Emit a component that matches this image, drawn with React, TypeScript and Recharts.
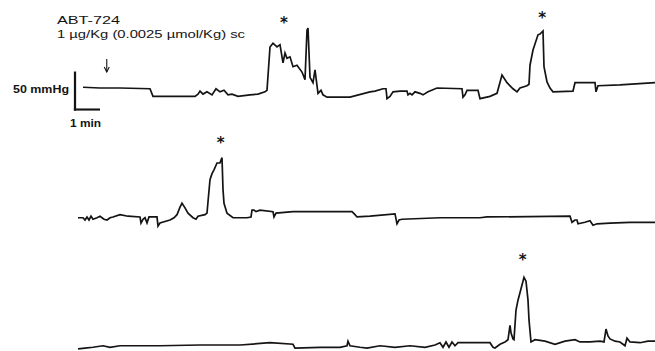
import React from "react";
import { LineChart, Line, XAxis, YAxis, ReferenceDot, ReferenceArea } from "recharts";

// time in min, pressure in mmHg (50 mmHg / 1 min scale bar)
const trace1 = [
  { t: 0, p: 101 }, { t: 0.68, p: 100 }, { t: 1.48, p: 100 }, { t: 2.68, p: 99 },
  { t: 2.8, p: 89 }, { t: 3.08, p: 89 }, { t: 4.48, p: 89 }, { t: 4.6, p: 92 },
  { t: 4.68, p: 96 }, { t: 4.8, p: 92 }, { t: 4.96, p: 95 }, { t: 5.16, p: 91 },
  { t: 5.32, p: 99 }, { t: 5.48, p: 95 }, { t: 5.64, p: 97 }, { t: 5.8, p: 91 },
  { t: 5.96, p: 92 }, { t: 6.2, p: 89 }, { t: 6.68, p: 91 }, { t: 7.0, p: 92 },
  { t: 7.28, p: 95 }, { t: 7.36, p: 97 }, { t: 7.48, p: 154 }, { t: 7.6, p: 159 },
  { t: 7.76, p: 154 }, { t: 7.88, p: 157 }, { t: 8.0, p: 133 }, { t: 8.08, p: 146 },
  { t: 8.16, p: 139 }, { t: 8.28, p: 141 }, { t: 8.4, p: 128 }, { t: 8.56, p: 130 },
  { t: 8.76, p: 121 }, { t: 8.88, p: 111 }, { t: 8.96, p: 176 }, { t: 9.0, p: 179 },
  { t: 9.08, p: 114 }, { t: 9.2, p: 107 }, { t: 9.28, p: 124 }, { t: 9.4, p: 93 },
  { t: 9.52, p: 97 }, { t: 9.6, p: 91 }, { t: 9.76, p: 88 }, { t: 10.68, p: 88 },
  { t: 11.48, p: 95 }, { t: 11.68, p: 96 }, { t: 12.0, p: 99 }, { t: 12.12, p: 99 },
  { t: 12.16, p: 86 }, { t: 12.28, p: 89 }, { t: 12.4, p: 95 }, { t: 12.68, p: 96 },
  { t: 12.96, p: 96 }, { t: 13.0, p: 91 }, { t: 13.08, p: 93 }, { t: 13.16, p: 91 },
  { t: 13.28, p: 95 }, { t: 13.48, p: 93 }, { t: 13.6, p: 91 }, { t: 13.8, p: 95 },
  { t: 14.16, p: 100 }, { t: 15.16, p: 99 }, { t: 15.2, p: 88 }, { t: 15.28, p: 91 },
  { t: 15.36, p: 97 }, { t: 15.8, p: 97 }, { t: 15.88, p: 86 }, { t: 16.28, p: 89 },
  { t: 16.56, p: 93 }, { t: 16.76, p: 117 }, { t: 16.96, p: 107 }, { t: 17.2, p: 99 },
  { t: 17.36, p: 95 }, { t: 17.48, p: 100 }, { t: 17.76, p: 103 }, { t: 17.84, p: 105 },
  { t: 17.88, p: 130 }, { t: 18.0, p: 150 }, { t: 18.2, p: 170 }, { t: 18.28, p: 171 },
  { t: 18.4, p: 175 }, { t: 18.44, p: 128 }, { t: 18.56, p: 108 }, { t: 18.68, p: 100 },
  { t: 18.8, p: 95 }, { t: 19.6, p: 96 }, { t: 19.68, p: 107 }, { t: 20.48, p: 107 },
  { t: 20.52, p: 95 }, { t: 20.6, p: 103 }, { t: 21.48, p: 104 }, { t: 22.88, p: 107 },
];

const trace2 = [
  { t: 0, p: 99 }, { t: 0.2, p: 99 }, { t: 0.28, p: 96 }, { t: 0.36, p: 100 },
  { t: 0.44, p: 96 }, { t: 0.52, p: 101 }, { t: 0.6, p: 97 }, { t: 0.76, p: 99 },
  { t: 0.88, p: 101 }, { t: 1.04, p: 97 }, { t: 1.16, p: 96 }, { t: 1.28, p: 99 },
  { t: 1.4, p: 100 }, { t: 1.68, p: 103 }, { t: 2.0, p: 101 }, { t: 2.48, p: 100 },
  { t: 2.52, p: 92 }, { t: 2.6, p: 97 }, { t: 2.68, p: 99 }, { t: 2.76, p: 92 },
  { t: 2.84, p: 100 }, { t: 3.16, p: 100 }, { t: 3.2, p: 88 }, { t: 3.28, p: 92 },
  { t: 3.68, p: 96 }, { t: 3.84, p: 99 }, { t: 3.96, p: 103 }, { t: 4.08, p: 113 },
  { t: 4.16, p: 118 }, { t: 4.28, p: 112 }, { t: 4.4, p: 105 }, { t: 4.6, p: 99 },
  { t: 4.72, p: 97 }, { t: 4.8, p: 101 }, { t: 5.08, p: 103 }, { t: 5.16, p: 105 },
  { t: 5.2, p: 120 }, { t: 5.28, p: 149 }, { t: 5.36, p: 157 }, { t: 5.44, p: 162 },
  { t: 5.56, p: 171 }, { t: 5.68, p: 171 }, { t: 5.72, p: 175 }, { t: 5.76, p: 178 },
  { t: 5.8, p: 136 }, { t: 5.84, p: 118 }, { t: 5.96, p: 105 }, { t: 6.2, p: 99 },
  { t: 6.76, p: 99 }, { t: 6.92, p: 100 }, { t: 6.96, p: 109 }, { t: 7.04, p: 109 },
  { t: 7.12, p: 107 }, { t: 7.28, p: 109 }, { t: 7.8, p: 107 }, { t: 7.84, p: 100 },
  { t: 7.92, p: 105 }, { t: 8.6, p: 107 }, { t: 10.08, p: 107 }, { t: 10.96, p: 107 },
  { t: 11.08, p: 103 }, { t: 11.16, p: 100 }, { t: 11.68, p: 101 }, { t: 12.68, p: 104 },
  { t: 12.76, p: 91 }, { t: 12.84, p: 96 }, { t: 12.96, p: 97 }, { t: 14.48, p: 99 },
  { t: 16.08, p: 99 }, { t: 16.36, p: 100 }, { t: 19.68, p: 101 }, { t: 19.76, p: 93 },
  { t: 19.88, p: 96 }, { t: 19.96, p: 96 }, { t: 20.0, p: 91 }, { t: 20.28, p: 93 },
  { t: 20.48, p: 95 }, { t: 20.6, p: 89 }, { t: 20.76, p: 91 }, { t: 21.28, p: 92 },
  { t: 22.08, p: 93 }, { t: 23.08, p: 93 },
];

const trace3 = [
  { t: 0, p: 95 }, { t: 0.28, p: 96 }, { t: 0.6, p: 97 }, { t: 1.0, p: 99 },
  { t: 1.28, p: 97 }, { t: 1.68, p: 99 }, { t: 3.28, p: 99 }, { t: 4.88, p: 100 },
  { t: 6.48, p: 100 }, { t: 7.68, p: 103 }, { t: 8.6, p: 101 }, { t: 8.68, p: 96 },
  { t: 9.68, p: 97 }, { t: 10.48, p: 97 }, { t: 10.76, p: 99 }, { t: 10.8, p: 105 },
  { t: 10.88, p: 99 }, { t: 11.28, p: 97 }, { t: 11.56, p: 96 }, { t: 12.08, p: 99 },
  { t: 12.68, p: 97 }, { t: 13.28, p: 99 }, { t: 13.88, p: 97 }, { t: 14.28, p: 100 },
  { t: 14.48, p: 103 }, { t: 14.6, p: 97 }, { t: 14.72, p: 104 }, { t: 14.84, p: 97 },
  { t: 14.96, p: 104 }, { t: 15.08, p: 99 }, { t: 15.2, p: 103 }, { t: 15.68, p: 103 },
  { t: 16.48, p: 103 }, { t: 16.6, p: 97 }, { t: 16.68, p: 96 }, { t: 16.88, p: 101 },
  { t: 17.08, p: 104 }, { t: 17.2, p: 107 }, { t: 17.28, p: 126 }, { t: 17.32, p: 116 },
  { t: 17.4, p: 108 }, { t: 17.44, p: 107 }, { t: 17.52, p: 146 }, { t: 17.6, p: 159 },
  { t: 17.76, p: 179 }, { t: 17.84, p: 189 }, { t: 17.92, p: 184 }, { t: 18.0, p: 159 },
  { t: 18.04, p: 133 }, { t: 18.12, p: 104 }, { t: 18.28, p: 107 }, { t: 18.68, p: 105 },
  { t: 19.08, p: 101 }, { t: 19.48, p: 105 }, { t: 19.88, p: 107 }, { t: 20.08, p: 104 },
  { t: 20.48, p: 104 }, { t: 20.88, p: 105 }, { t: 21.04, p: 104 }, { t: 21.12, p: 121 },
  { t: 21.2, p: 112 }, { t: 21.28, p: 108 }, { t: 21.48, p: 105 }, { t: 21.68, p: 104 },
  { t: 21.88, p: 99 }, { t: 21.96, p: 109 }, { t: 22.08, p: 104 }, { t: 22.48, p: 103 },
  { t: 22.8, p: 105 }, { t: 23.08, p: 105 },
];

// response peaks marked with *
const stars1 = [{ t: 8.04, p: 190 }, { t: 18.37, p: 196 }];
const stars2 = [{ t: 5.71, p: 201 }];
const stars3 = [{ t: 17.79, p: 216 }];

const doseTitle = "ABT-724";
const doseText = "1 \u00b5g/Kg (0.0025 \u00b5mol/Kg) sc";
const injection = { t: 0.95, p: 121 };
// calibration bar: corner at (t0, p0), 1 min across, 50 mmHg up
const scaleBar = { t0: -0.32, p0: 71.7, min: 1, mmHg: 50 };

const INK = "#141414";
const FONT = "'Liberation Sans', Arial, sans-serif";

const Star = (props: any) => (
  <text x={props.cx} y={props.cy + 8} textAnchor="middle" fontSize={15} fontWeight="bold"
    fontFamily="'DejaVu Sans', sans-serif" fill={INK}>*</text>
);

const Arrow = (props: any) => {
  const { cx, cy } = props;
  return (
    <g stroke={INK} strokeWidth={1.1} fill="none">
      <line x1={cx} y1={cy - 13} x2={cx} y2={cy} />
      <polyline points={`${cx - 2.5},${cy - 5} ${cx},${cy} ${cx + 2.5},${cy - 5}`} />
    </g>
  );
};

function Trace({ data, stars, top, height, xDomain, yDomain, children }: any) {
  return (
    <div style={{ position: "absolute", left: 0, top }}>
      <LineChart width={655} height={height} margin={{ top: 0, right: 0, bottom: 0, left: 0 }}>
        <XAxis type="number" dataKey="t" domain={xDomain} hide allowDataOverflow />
        <YAxis type="number" domain={yDomain} hide allowDataOverflow />
        <Line data={data} type="linear" dataKey="p" stroke={INK} strokeWidth={1.7} dot={false} activeDot={false} isAnimationActive={false} />
        {children}
        {stars.map((s: any, i: number) => (
          <ReferenceDot key={i} x={s.t} y={s.p} r={0} shape={Star} />
        ))}
      </LineChart>
    </div>
  );
}

export default function App() {
  const sb = scaleBar;
  return (
    <div style={{ position: "absolute", left: 0, top: 0, width: 655, height: 351, background: "#fff" }}>
      <Trace data={trace1} stars={stars1} top={0} height={140} xDomain={[-3.32, 22.88]} yDomain={[31.6, 215.8]}>
        <ReferenceArea x1={sb.t0 - 0.045} x2={sb.t0 + 0.045} y1={sb.p0 - 1.4} y2={sb.p0 + sb.mmHg} fill={INK} fillOpacity={1} stroke="none" />
        <ReferenceArea x1={sb.t0 - 0.045} x2={sb.t0 + sb.min} y1={sb.p0 - 1.4} y2={sb.p0 + 1.4} fill={INK} fillOpacity={1} stroke="none" />
        <ReferenceDot x={injection.t} y={injection.p} r={0} shape={Arrow} />
      </Trace>
      <Trace data={trace2} stars={stars2} top={120} height={120} xDomain={[-3.12, 23.08]} yDomain={[69.7, 227.6]} />
      <Trace data={trace3} stars={stars3} top={240} height={111} xDomain={[-3.12, 23.08]} yDomain={[92.1, 238.2]} />
      <svg width={655} height={351} style={{ position: "absolute", left: 0, top: 0, pointerEvents: "none" }}>
        <text x={57} y={24} fontSize={11} fontFamily={FONT} fill={INK} textLength={63} lengthAdjust="spacingAndGlyphs">{doseTitle}</text>
        <text x={57} y={38} fontSize={11} fontFamily={FONT} fill={INK} textLength={188} lengthAdjust="spacingAndGlyphs">{doseText}</text>
        <text x={13} y={93} fontSize={10.5} fontWeight="bold" fontFamily={FONT} fill={INK} textLength={56} lengthAdjust="spacingAndGlyphs">{`${sb.mmHg} mmHg`}</text>
        <text x={70} y={127} fontSize={10.5} fontWeight="bold" fontFamily={FONT} fill={INK} textLength={31} lengthAdjust="spacingAndGlyphs">{`${sb.min} min`}</text>
      </svg>
    </div>
  );
}
